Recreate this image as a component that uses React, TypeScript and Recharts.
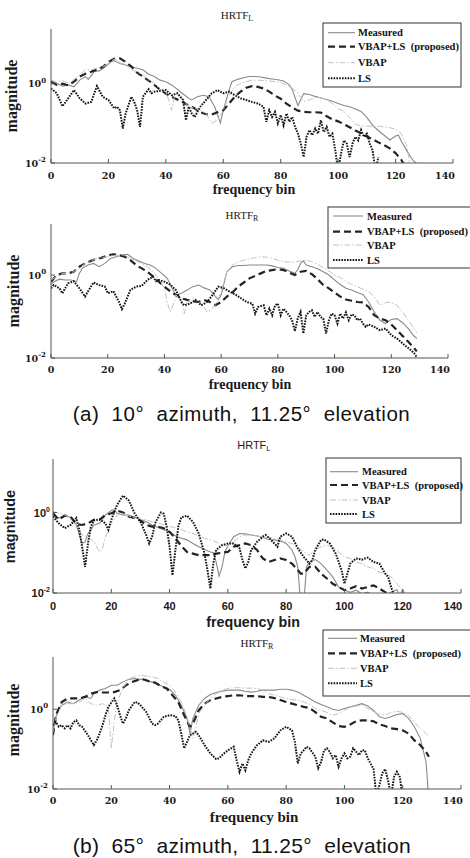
import { LineChart, Line, XAxis, YAxis } from "recharts";

// each point is [frequency bin, log10(magnitude)]
type Pt = [number, number];

const BIN_TICKS = [0, 20, 40, 60, 80, 100, 120, 140];
const MAG_TICKS = [0.01, 1];
const LEGEND_LABELS = ["Measured", "VBAP+LS  (proposed)", "VBAP", "LS"];
const CAPTIONS = [
  "(a)  10°  azimuth,  11.25°  elevation",
  "(b)  65°  azimuth,  11.25°  elevation",
];

// (a) 10° azimuth, left ear
const measuredA_L: Pt[] = [[0,0.05],[2,0.01],[4,-0.06],[6,-0.03],[8,-0.08],[10,0.09],[12,0.18],[13,0.11],[15,0.3],[17,0.33],[19,0.43],[21,0.56],[22,0.58],[24,0.51],[26,0.47],[28,0.43],[30,0.39],[32,0.35],[34,0.24],[36,0.18],[38,0.09],[40,0.05],[42,-0.03],[44,-0.14],[46,-0.26],[48,-0.37],[49,-0.41],[51,-0.33],[53,-0.29],[55,-0.33],[57,-0.58],[59,-0.99],[60,-0.67],[62,-0.16],[63,0.05],[65,0.11],[67,0.15],[69,0.18],[71,0.18],[73,0.17],[75,0.14],[77,0.12],[79,0.1],[81,0.07],[83,-0.03],[84,-0.15],[85,-0.35],[86,-0.55],[87,-0.4],[88,-0.25],[90,-0.27],[92,-0.32],[94,-0.36],[96,-0.4],[98,-0.44],[100,-0.5],[102,-0.55],[104,-0.58],[106,-0.64],[108,-0.7],[110,-0.85],[112,-1.05],[114,-1.18],[116,-1.3],[118,-1.42],[120,-1.32],[121,-1.3],[122,-1.45],[124,-1.7],[126,-1.93],[128,-2.05]];
const proposedA_L: Pt[] = [[0,0.05],[2,-0.03],[4,0.0],[6,-0.04],[8,0.05],[10,0.18],[12,0.25],[14,0.3],[16,0.36],[18,0.42],[20,0.55],[22,0.63],[24,0.64],[26,0.55],[28,0.43],[30,0.28],[32,0.18],[34,0.08],[36,-0.03],[38,-0.15],[40,-0.25],[42,-0.33],[44,-0.4],[46,-0.47],[48,-0.55],[50,-0.62],[52,-0.72],[54,-0.77],[56,-0.78],[58,-0.72],[60,-0.67],[62,-0.5],[64,-0.33],[66,-0.2],[68,-0.1],[70,-0.06],[72,-0.08],[74,-0.12],[76,-0.2],[78,-0.3],[80,-0.38],[82,-0.5],[84,-0.6],[86,-0.68],[88,-0.71],[90,-0.72],[92,-0.72],[94,-0.73],[96,-0.82],[98,-0.9],[100,-0.95],[102,-1.02],[104,-1.1],[106,-1.18],[108,-1.25],[110,-1.33],[112,-1.4],[114,-1.48],[116,-1.55],[118,-1.63],[120,-1.75],[122,-1.92],[123,-2.05]];
const vbapA_L: Pt[] = [[0,0.09],[2,0.05],[4,0.08],[6,0.01],[8,0.11],[10,0.22],[12,0.35],[14,0.35],[16,0.39],[18,0.43],[20,0.51],[22,0.62],[24,0.56],[26,0.47],[28,0.35],[30,0.3],[32,0.22],[34,0.09],[36,0.01],[38,-0.14],[40,-0.2],[41,-0.41],[42,-0.67],[43,-0.33],[44,-0.24],[46,-0.41],[48,-0.58],[50,-0.62],[52,-0.67],[54,-0.75],[56,-1.0],[58,-0.92],[60,-0.67],[62,-0.29],[64,-0.08],[66,0.01],[68,0.05],[70,0.09],[72,0.09],[74,0.08],[76,0.07],[78,0.05],[80,0.03],[82,-0.03],[84,-0.12],[86,-0.24],[88,-0.45],[90,-0.41],[92,-0.35],[94,-0.35],[96,-0.41],[98,-0.5],[100,-0.62],[102,-0.7],[104,-0.85],[106,-1.02],[108,-1.07],[110,-1.07],[112,-1.07],[114,-1.07],[116,-1.09],[118,-1.11],[120,-1.15],[122,-1.26],[124,-1.59],[125,-2.05]];
const lsA_L: Pt[] = [[0,-0.12],[2,-0.24],[4,-0.57],[6,-0.37],[8,-0.16],[10,-0.37],[12,-0.5],[14,-0.46],[16,-0.06],[18,-0.33],[20,-0.41],[22,-0.62],[23,-0.58],[24,-0.67],[25,-1.13],[26,-0.75],[28,-0.33],[29,-0.46],[30,-0.67],[31,-1.09],[32,-0.33],[34,-0.14],[35,-0.24],[36,-0.2],[38,-0.18],[40,-0.16],[42,-0.29],[44,-0.24],[46,-0.41],[47,-0.92],[48,-0.58],[49,-0.75],[50,-0.84],[52,-0.58],[54,-0.41],[56,-0.24],[58,-0.16],[60,-0.24],[62,-0.2],[64,-0.29],[66,-0.37],[68,-0.41],[70,-0.46],[72,-0.5],[74,-0.58],[75,-0.96],[76,-0.67],[77,-0.84],[78,-0.71],[79,-1.0],[80,-0.79],[81,-1.05],[82,-0.75],[83,-0.96],[84,-0.84],[85,-1.09],[86,-1.26],[87,-1.51],[88,-1.85],[89,-1.34],[90,-1.17],[91,-1.3],[92,-1.13],[93,-1.26],[94,-0.92],[95,-1.22],[96,-1.09],[97,-1.34],[98,-1.26],[99,-1.68],[100,-2.2],[101,-1.76],[102,-1.43],[103,-1.51],[104,-1.85],[105,-1.51],[106,-1.34],[107,-1.43],[108,-1.17],[109,-1.34],[110,-1.26],[111,-1.51],[112,-1.68],[113,-2.2],[114,-1.85]];

// (a) 10° azimuth, right ear
const measuredA_R: Pt[] = [[0,-0.24],[1,-0.16],[3,-0.1],[5,-0.12],[7,-0.12],[9,-0.16],[10,0.04],[11,0.16],[13,0.24],[15,0.28],[17,0.2],[19,0.28],[21,0.4],[23,0.44],[25,0.48],[27,0.5],[29,0.4],[31,0.34],[33,0.28],[35,0.24],[37,0.16],[39,0.04],[41,-0.08],[43,-0.36],[44,-0.48],[46,-0.44],[48,-0.36],[50,-0.28],[52,-0.24],[54,-0.31],[56,-0.36],[58,-0.52],[59,-0.59],[60,-0.48],[62,0.08],[64,0.2],[66,0.23],[68,0.23],[70,0.24],[72,0.24],[74,0.24],[76,0.24],[78,0.22],[80,0.18],[82,0.16],[84,0.1],[86,0.04],[87,0.12],[88,0.28],[89,0.34],[90,0.24],[92,0.2],[94,0.15],[96,0.08],[98,0.0],[100,-0.12],[102,-0.23],[104,-0.32],[106,-0.36],[108,-0.42],[110,-0.47],[112,-0.65],[114,-0.89],[116,-1.09],[118,-1.17],[120,-1.07],[122,-1.05],[124,-1.15],[126,-1.29],[128,-1.47],[129,-1.53]];
const proposedA_R: Pt[] = [[0,-0.16],[2,0.0],[4,0.04],[6,0.04],[8,0.08],[10,0.2],[12,0.28],[14,0.34],[16,0.39],[18,0.42],[20,0.47],[22,0.5],[24,0.48],[26,0.44],[28,0.36],[30,0.24],[32,0.16],[34,0.08],[36,-0.04],[38,-0.16],[40,-0.28],[42,-0.39],[44,-0.48],[46,-0.56],[48,-0.6],[50,-0.63],[52,-0.65],[54,-0.6],[56,-0.65],[58,-0.73],[60,-0.65],[62,-0.52],[64,-0.42],[66,-0.28],[68,-0.18],[70,-0.08],[72,-0.02],[74,0.04],[76,0.1],[78,0.12],[80,0.14],[82,0.12],[84,0.06],[86,0.0],[88,0.08],[90,0.1],[92,0.02],[94,-0.1],[96,-0.24],[98,-0.32],[100,-0.42],[102,-0.52],[104,-0.59],[106,-0.62],[108,-0.65],[110,-0.66],[112,-0.77],[114,-0.97],[116,-1.05],[118,-1.09],[120,-1.19],[122,-1.33],[124,-1.47],[126,-1.61],[128,-1.76],[129,-1.84]];
const vbapA_R: Pt[] = [[0,-0.12],[2,-0.04],[4,0.04],[6,0.04],[8,0.08],[10,0.16],[12,0.28],[14,0.34],[16,0.4],[18,0.42],[20,0.44],[22,0.47],[24,0.48],[26,0.48],[28,0.4],[30,0.34],[32,0.28],[34,0.2],[36,0.08],[38,-0.08],[40,-0.32],[41,-0.65],[42,-0.89],[43,-0.73],[44,-0.48],[46,-0.6],[47,-0.93],[48,-0.65],[50,-0.56],[52,-0.65],[54,-0.77],[55,-0.89],[56,-0.85],[58,-0.73],[60,-0.4],[62,0.08],[64,0.24],[66,0.32],[68,0.36],[70,0.39],[72,0.42],[74,0.44],[76,0.43],[78,0.4],[80,0.36],[82,0.32],[84,0.31],[86,0.31],[88,0.34],[90,0.36],[92,0.32],[94,0.26],[96,0.18],[98,0.1],[100,0.0],[102,-0.06],[104,-0.15],[106,-0.23],[108,-0.28],[110,-0.34],[112,-0.4],[114,-0.52],[116,-0.73],[118,-0.66],[120,-0.66],[122,-0.73],[124,-0.89],[126,-1.09],[128,-1.29],[129,-1.4]];
const lsA_R: Pt[] = [[0,-0.32],[1,-0.24],[3,-0.32],[4,-0.44],[6,-0.2],[8,-0.15],[10,-0.32],[12,-0.52],[13,-0.4],[15,-0.18],[17,-0.24],[19,-0.28],[20,-0.44],[22,-0.39],[24,-0.65],[25,-0.82],[26,-0.69],[28,-0.36],[30,-0.28],[32,-0.26],[34,-0.12],[36,-0.04],[37,-0.15],[38,-0.12],[40,-0.16],[42,-0.23],[44,-0.36],[46,-0.65],[47,-0.73],[49,-0.69],[51,-0.6],[53,-0.73],[55,-0.65],[57,-0.48],[59,-0.28],[61,-0.32],[63,-0.4],[65,-0.47],[67,-0.56],[69,-0.65],[71,-0.69],[72,-0.93],[73,-0.77],[75,-0.73],[76,-0.97],[77,-0.81],[78,-0.97],[79,-0.73],[80,-0.69],[81,-0.97],[82,-0.81],[83,-0.89],[84,-0.97],[85,-1.09],[86,-1.35],[87,-1.05],[88,-0.89],[89,-1.41],[90,-0.97],[91,-0.89],[92,-0.85],[93,-1.01],[94,-0.89],[95,-1.01],[96,-1.05],[97,-1.41],[98,-1.09],[99,-0.93],[100,-0.97],[101,-1.17],[102,-0.93],[103,-1.05],[104,-0.9],[105,-1.09],[106,-0.95],[107,-0.97],[108,-1.09],[109,-1.05],[110,-1.17],[111,-1.25],[112,-1.19],[114,-1.25],[116,-1.33],[118,-1.29],[120,-1.45],[122,-1.53],[124,-1.65],[126,-1.76],[128,-1.88],[129,-1.98]];

// (b) 65° azimuth, left ear
const measuredB_L: Pt[] = [[0,-0.06],[2,-0.14],[4,-0.06],[6,-0.12],[8,-0.31],[10,-0.77],[11,-0.73],[12,-0.52],[13,-0.43],[14,-0.31],[16,-0.27],[18,-0.06],[20,0.05],[21,0.07],[22,-0.02],[24,-0.06],[26,-0.06],[28,-0.12],[30,-0.17],[32,-0.23],[34,-0.31],[36,-0.37],[38,-0.43],[40,-0.48],[42,-0.58],[44,-0.64],[46,-0.68],[48,-0.77],[50,-0.85],[52,-0.92],[54,-0.98],[55,-1.0],[56,-1.23],[57,-1.58],[58,-1.35],[59,-0.98],[60,-0.83],[62,-0.6],[64,-0.52],[66,-0.53],[68,-0.56],[70,-0.58],[72,-0.62],[74,-0.67],[76,-0.68],[78,-0.71],[80,-0.77],[82,-0.93],[83,-1.1],[84,-1.35],[85,-2.3],[86,-2.3],[87,-1.35],[88,-1.23],[90,-1.17],[92,-1.27],[94,-1.43],[96,-1.6],[98,-1.85],[100,-1.93],[102,-1.98],[104,-1.93],[106,-2.02],[108,-1.98],[110,-2.06],[112,-2.02],[114,-2.06],[116,-1.98],[118,-1.92],[119,-2.06],[120,-1.92],[121,-2.06]];
const proposedB_L: Pt[] = [[0,-0.02],[2,-0.18],[4,-0.08],[6,-0.1],[8,-0.28],[10,-0.31],[12,-0.27],[14,-0.18],[16,-0.18],[18,-0.06],[20,-0.02],[22,0.05],[24,0.0],[26,-0.1],[28,-0.14],[30,-0.2],[32,-0.31],[34,-0.35],[36,-0.35],[38,-0.39],[40,-0.48],[42,-0.64],[44,-0.83],[46,-0.98],[48,-1.02],[50,-1.06],[52,-1.06],[54,-1.06],[56,-1.02],[58,-1.0],[60,-0.98],[62,-0.85],[64,-0.81],[66,-0.77],[68,-0.81],[70,-0.93],[72,-1.14],[74,-1.23],[76,-1.18],[78,-1.14],[80,-1.18],[82,-1.27],[84,-1.43],[85,-1.52],[86,-1.52],[88,-1.35],[90,-1.35],[92,-1.52],[94,-1.64],[96,-1.77],[98,-1.85],[100,-1.93],[102,-1.89],[104,-1.83],[106,-1.89],[108,-1.85],[110,-1.81],[112,-1.89],[114,-1.98],[115,-2.02]];
const vbapB_L: Pt[] = [[0,0.03],[2,-0.02],[4,-0.06],[6,-0.17],[8,-0.31],[10,-0.56],[12,-0.6],[14,-0.73],[16,-0.98],[17,-0.89],[18,-0.6],[20,-0.27],[22,-0.06],[24,-0.02],[26,-0.08],[28,-0.14],[30,-0.17],[32,-0.18],[34,-0.23],[36,-0.25],[38,-0.31],[40,-0.35],[42,-0.37],[44,-0.42],[46,-0.48],[48,-0.52],[50,-0.58],[52,-0.64],[54,-0.68],[56,-0.73],[58,-0.81],[60,-0.83],[62,-0.73],[64,-0.6],[66,-0.56],[68,-0.56],[70,-0.58],[72,-0.62],[74,-0.62],[76,-0.64],[78,-0.68],[80,-0.73],[82,-0.77],[84,-0.85],[86,-0.98],[88,-1.06],[90,-0.93],[92,-0.85],[94,-0.81],[96,-0.85],[98,-0.98],[100,-1.1],[102,-1.14],[104,-1.23],[106,-1.27],[108,-1.35],[110,-1.39],[112,-1.48],[114,-1.52],[116,-1.6],[118,-1.77],[120,-1.93],[121,-2.02]];
const lsB_L: Pt[] = [[0,-0.1],[2,-0.27],[4,-0.39],[6,-0.31],[8,-0.14],[9,-0.43],[10,-0.85],[11,-1.35],[12,-0.77],[13,-0.35],[14,-0.2],[16,-0.17],[18,-0.27],[19,-0.43],[20,-0.18],[22,0.19],[24,0.42],[26,0.3],[28,-0.02],[30,-0.23],[32,-0.56],[33,-0.77],[34,-0.6],[35,-0.27],[37,0.0],[38,-0.03],[39,-0.35],[40,-0.85],[41,-1.56],[42,-0.93],[43,-0.35],[44,-0.12],[46,-0.08],[48,-0.23],[50,-0.52],[52,-1.02],[53,-1.43],[54,-1.89],[55,-1.27],[56,-0.93],[58,-0.81],[60,-0.77],[62,-0.77],[64,-0.89],[65,-1.18],[66,-1.39],[67,-1.23],[68,-0.93],[70,-0.73],[72,-0.6],[73,-0.56],[74,-0.62],[76,-0.77],[77,-0.85],[78,-0.6],[80,-0.52],[82,-0.6],[84,-0.89],[86,-1.1],[88,-1.27],[89,-1.18],[90,-0.93],[92,-0.68],[93,-0.67],[95,-0.77],[97,-1.02],[99,-1.43],[100,-1.77],[101,-1.52],[102,-1.27],[104,-1.14],[106,-1.17],[108,-1.12],[110,-1.23],[112,-1.27],[114,-1.52],[115,-1.6],[116,-1.85],[117,-2.05]];

// (b) 65° azimuth, right ear
const measuredB_R: Pt[] = [[0,-0.53],[1,-0.19],[2,0.02],[3,0.1],[5,0.18],[7,0.14],[9,0.23],[11,0.31],[13,0.27],[14,0.39],[16,0.48],[18,0.52],[20,0.6],[22,0.6],[24,0.68],[26,0.75],[28,0.77],[30,0.75],[32,0.73],[34,0.68],[36,0.62],[38,0.56],[40,0.5],[42,0.35],[44,0.1],[46,-0.23],[47,-0.61],[48,-0.23],[50,0.1],[52,0.27],[54,0.37],[56,0.42],[58,0.45],[60,0.48],[62,0.48],[64,0.48],[66,0.45],[68,0.43],[70,0.45],[72,0.48],[74,0.48],[76,0.48],[78,0.5],[80,0.5],[82,0.48],[84,0.43],[86,0.35],[88,0.27],[90,0.18],[92,0.12],[94,0.06],[96,0.0],[98,-0.03],[100,0.02],[102,0.06],[104,0.1],[106,0.14],[108,0.08],[110,-0.03],[112,-0.19],[114,-0.23],[116,-0.19],[118,-0.13],[120,-0.11],[122,-0.23],[124,-0.44],[126,-0.73],[128,-1.32],[129,-2.3]];
const proposedB_R: Pt[] = [[0,-0.65],[1,-0.15],[3,0.18],[5,0.27],[7,0.27],[9,0.27],[11,0.31],[13,0.39],[15,0.43],[17,0.42],[19,0.42],[21,0.43],[23,0.48],[25,0.6],[27,0.68],[29,0.73],[31,0.75],[33,0.7],[35,0.67],[37,0.58],[39,0.52],[41,0.35],[43,0.18],[45,-0.15],[47,-0.44],[48,-0.36],[50,-0.03],[52,0.14],[54,0.23],[56,0.27],[58,0.31],[60,0.33],[62,0.35],[64,0.35],[66,0.33],[68,0.33],[70,0.33],[72,0.31],[74,0.31],[76,0.28],[78,0.23],[80,0.18],[82,0.14],[84,0.1],[86,0.06],[88,0.03],[90,-0.07],[92,-0.19],[94,-0.23],[96,-0.33],[98,-0.42],[100,-0.44],[102,-0.38],[104,-0.3],[106,-0.28],[108,-0.28],[110,-0.3],[112,-0.38],[114,-0.42],[116,-0.48],[118,-0.5],[120,-0.53],[122,-0.61],[124,-0.78],[126,-0.9],[128,-1.07],[129,-1.19]];
const vbapB_R: Pt[] = [[0,-0.57],[1,-0.23],[3,0.1],[5,0.14],[7,0.14],[9,0.18],[11,0.27],[13,0.14],[15,0.1],[17,0.14],[19,0.06],[20,-0.98],[21,-0.32],[22,0.18],[24,0.52],[26,0.77],[28,0.81],[30,0.85],[32,0.83],[34,0.81],[36,0.77],[38,0.68],[40,0.6],[42,0.43],[44,0.18],[46,-0.19],[48,-0.73],[49,-0.48],[50,-0.11],[52,0.1],[54,0.27],[56,0.39],[58,0.48],[60,0.52],[62,0.54],[64,0.54],[66,0.53],[68,0.53],[70,0.52],[72,0.48],[74,0.39],[76,0.35],[78,0.31],[80,0.27],[82,0.24],[84,0.23],[86,0.18],[88,0.12],[90,0.02],[92,-0.03],[94,-0.08],[96,-0.15],[98,-0.11],[100,-0.03],[102,0.06],[104,0.08],[106,0.1],[108,0.02],[110,-0.07],[112,-0.13],[114,-0.15],[116,-0.08],[118,-0.05],[120,-0.08],[122,-0.15],[124,-0.32],[126,-0.48],[128,-0.61],[129,-0.69]];
const lsB_R: Pt[] = [[0,-0.4],[1,-0.32],[2,-0.44],[3,-0.4],[4,-0.48],[5,-0.4],[6,-0.48],[7,-0.32],[8,-0.28],[9,-0.4],[10,-0.44],[12,-0.65],[14,-0.9],[15,-0.78],[16,-0.61],[17,-0.4],[18,-0.15],[19,0.06],[21,0.27],[22,0.1],[23,-0.15],[24,-0.36],[25,-0.23],[26,-0.03],[28,0.18],[29,0.17],[30,0.1],[32,-0.07],[34,-0.36],[35,-0.4],[36,-0.36],[38,-0.19],[40,-0.15],[42,-0.17],[43,-0.28],[44,-0.61],[45,-0.98],[46,-0.82],[47,-0.65],[48,-0.61],[49,-0.57],[50,-0.65],[52,-0.9],[54,-1.11],[56,-1.25],[57,-1.23],[58,-1.15],[60,-1.03],[62,-0.94],[63,-1.28],[64,-1.57],[65,-1.36],[66,-1.53],[67,-1.28],[68,-1.11],[70,-0.9],[72,-0.78],[74,-0.82],[76,-0.73],[78,-0.53],[80,-0.44],[82,-0.53],[83,-0.82],[84,-1.36],[85,-1.11],[86,-1.03],[87,-0.94],[88,-0.98],[90,-1.19],[91,-1.48],[92,-1.32],[93,-1.03],[94,-0.98],[95,-1.07],[96,-1.23],[97,-1.15],[98,-1.44],[99,-1.23],[100,-1.11],[101,-1.23],[102,-1.19],[103,-0.98],[105,-1.15],[106,-1.03],[107,-1.03],[108,-1.23],[110,-1.5],[111,-2.2],[112,-1.9],[113,-1.6],[114,-1.5],[115,-1.8],[116,-2.2],[117,-1.7],[118,-1.57],[119,-1.7],[120,-2.2]];

const SERIES_STYLE = [
  { stroke: "#8a8a8a", strokeWidth: 1.1, strokeDasharray: undefined },
  { stroke: "#242424", strokeWidth: 2.2, strokeDasharray: "7 4" },
  { stroke: "#c2c2c2", strokeWidth: 1, strokeDasharray: "6 2 1.5 2" },
  { stroke: "#151515", strokeWidth: 2, strokeDasharray: "1.6 1.2" },
];

const SERIF = "'Liberation Serif', 'Times New Roman', serif";
const SERIF_TICK = "'DejaVu Serif', serif";
const SANS = "'Liberation Sans', Arial, sans-serif";

const PANELS = [
  {
    ear: "L", sans: false, left: 51, right: 453, top: 29, bottom: 163, topExp: 1.38,
    title: [237, 15], yTitle: [11.7, 96], xTitle: [254, 189], tickY: 175, xTitleSize: 14,
    legend: { x: 323, y: 23, w: 138, h: 64, rows: [9.7, 23.7, 39.7, 55.3], line: [5, 32], text: 35 },
    series: [measuredA_L, proposedA_L, vbapA_L, lsA_L],
  },
  {
    ear: "R", sans: false, left: 51, right: 448, top: 224, bottom: 358, topExp: 1.23,
    title: [242, 215], yTitle: [13.3, 291], xTitle: [250, 384], tickY: 369.5, xTitleSize: 14,
    legend: { x: 328, y: 207, w: 150, h: 61, rows: [9, 24.7, 38, 53], line: [5, 35], text: 39 },
    series: [measuredA_R, proposedA_R, vbapA_R, lsA_R],
  },
  {
    ear: "L", sans: true, left: 53, right: 461, top: 459, bottom: 593, topExp: 1.33,
    title: [254, 445], yTitle: [10, 526.5], xTitle: [253, 621.7], tickY: 605.7, xTitleSize: 14.3,
    legend: { x: 326, y: 458, w: 135, h: 65, rows: [13.7, 27, 42, 56], line: [4, 32], text: 36 },
    series: [measuredB_L, proposedB_L, vbapB_L, lsB_L],
  },
  {
    ear: "R", sans: false, left: 53, right: 461, top: 657, bottom: 789, topExp: 1.31,
    title: [257, 643], yTitle: [13.3, 720], xTitle: [254, 816.7], tickY: 800.7, xTitleSize: 15,
    legend: { x: 323, y: 630, w: 150, h: 66, rows: [8.3, 23.3, 38.3, 53.3], line: [5, 34], text: 37 },
    series: [measuredB_R, proposedB_R, vbapB_R, lsB_R],
  },
];

const PAD = 10;
const AXIS_H = 40;
const AXIS_COLOR = "#555";

const toRows = (pts: Pt[]) => pts.map(([bin, e]) => ({ bin, mag: 10 ** e }));

function Panel({ p }: { p: (typeof PANELS)[number] }) {
  const plotH = p.bottom - p.top;
  const offsetY = p.top - PAD;
  const tickFont = p.sans ? SANS : SERIF_TICK;
  const tickSize = p.sans ? 11 : 9.5;

  const binTick = (props: any) => (
    <text x={props.x} y={p.tickY - offsetY} textAnchor="middle" dominantBaseline="central"
      fontFamily={tickFont} fontSize={tickSize} fontWeight="bold" fill="#1a1a1a">
      {props.payload.value}
    </text>
  );
  const magTick = (props: any) => {
    const exp = Math.round(Math.log10(props.payload.value));
    return (
      <text x={p.left - (p.sans ? 3 : 5)} y={props.y} textAnchor="end" dominantBaseline="central"
        fontFamily={tickFont} fontSize={tickSize} fontWeight="bold" fill="#1a1a1a">
        10<tspan dy={-4} fontSize={7}>{exp}</tspan>
      </text>
    );
  };
  const noTick = () => <g />;
  const domain = [0.01, 10 ** p.topExp];

  return (
    <div style={{ position: "absolute", left: 0, top: offsetY }}>
      <LineChart width={p.right + 4} height={PAD + plotH + AXIS_H}
        margin={{ top: PAD, right: 4, bottom: 0, left: 0 }}>
        <XAxis xAxisId="b" dataKey="bin" type="number" domain={[0, 140]} ticks={BIN_TICKS}
          allowDataOverflow height={AXIS_H} stroke={AXIS_COLOR} tickSize={-4} tick={binTick} />
        <XAxis xAxisId="t" orientation="top" dataKey="bin" type="number" domain={[0, 140]}
          ticks={BIN_TICKS} height={0} stroke={AXIS_COLOR} tickSize={-4} tick={noTick} />
        <YAxis yAxisId="l" type="number" scale="log" domain={domain} ticks={MAG_TICKS}
          allowDataOverflow width={p.left} stroke={AXIS_COLOR} tickSize={-4} tick={magTick} />
        <YAxis yAxisId="r" orientation="right" type="number" scale="log" domain={domain}
          ticks={MAG_TICKS} allowDataOverflow width={0} stroke={AXIS_COLOR} tickSize={-4} tick={noTick} />
        {p.series.map((pts, i) => (
          <Line key={i} xAxisId="b" yAxisId="l" data={toRows(pts)} dataKey="mag" type="linear"
            dot={false} activeDot={false} isAnimationActive={false}
            stroke={SERIES_STYLE[i].stroke} strokeWidth={SERIES_STYLE[i].strokeWidth}
            strokeDasharray={SERIES_STYLE[i].strokeDasharray} />
        ))}
      </LineChart>
    </div>
  );
}

function Overlay() {
  return (
    <svg width={470} height={858} style={{ position: "absolute", left: 0, top: 0, pointerEvents: "none" }}>
      {PANELS.map((p, k) => {
        const font = p.sans ? SANS : SERIF;
        const lg = p.legend;
        return (
          <g key={k}>
            <text x={p.title[0]} y={p.title[1]} textAnchor="middle" dominantBaseline="central"
              fontFamily={font} fontSize={11} fill="#1a1a1a">
              HRTF<tspan dy={3} fontSize={8}>{p.ear}</tspan>
            </text>
            <text x={p.yTitle[0]} y={p.yTitle[1]} textAnchor="middle" dominantBaseline="central"
              transform={`rotate(-90 ${p.yTitle[0]} ${p.yTitle[1]})`}
              fontFamily={font} fontSize={p.sans ? 14.5 : 16} fontWeight="bold" fill="#1a1a1a">
              magnitude
            </text>
            <text x={p.xTitle[0]} y={p.xTitle[1]} textAnchor="middle" dominantBaseline="central"
              fontFamily={font} fontSize={p.xTitleSize} fontWeight="bold" fill="#1a1a1a">
              frequency bin
            </text>
            <rect x={lg.x} y={lg.y} width={lg.w} height={lg.h} fill="#fff" stroke="#333" strokeWidth={1} />
            {LEGEND_LABELS.map((label, i) => (
              <g key={label}>
                <line x1={lg.x + lg.line[0]} x2={lg.x + lg.line[1]} y1={lg.y + lg.rows[i]} y2={lg.y + lg.rows[i]}
                  stroke={SERIES_STYLE[i].stroke} strokeWidth={SERIES_STYLE[i].strokeWidth}
                  strokeDasharray={SERIES_STYLE[i].strokeDasharray} />
                <text x={lg.x + lg.text} y={lg.y + lg.rows[i]} dominantBaseline="central"
                  fontFamily={SERIF} fontSize={10.5} fontWeight="bold" fill="#111"
                  style={{ whiteSpace: "pre" }}>
                  {label}
                </text>
              </g>
            ))}
          </g>
        );
      })}
      <text x={72.7} y={421} textLength={337} lengthAdjust="spacing" fontFamily={SANS} fontSize={20.5} fill="#111"
        style={{ whiteSpace: "pre" }}>{CAPTIONS[0]}</text>
      <text x={72.7} y={853} textLength={338} lengthAdjust="spacing" fontFamily={SANS} fontSize={21} fill="#111"
        style={{ whiteSpace: "pre" }}>{CAPTIONS[1]}</text>
    </svg>
  );
}

export default function App() {
  return (
    <div style={{ position: "absolute", left: 0, top: 0, width: 470, height: 858, overflow: "hidden", background: "#fff" }}>
      {PANELS.map((p, k) => <Panel key={k} p={p} />)}
      <Overlay />
    </div>
  );
}
